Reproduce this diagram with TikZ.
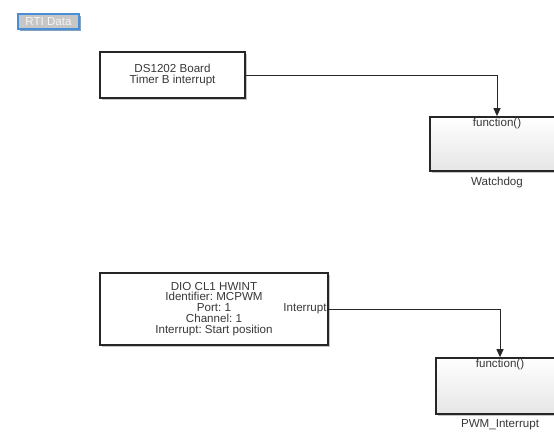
\documentclass[tikz,border=0pt]{standalone}
\usepackage{fontspec}
\setmainfont{Liberation Sans}
\usepackage{xcolor}
\usepackage{tikz}
\usetikzlibrary{arrows.meta,shadows,positioning}

\definecolor{rtiblue}{HTML}{4A8FD6}
\frenchspacing

\tikzset{
	blk/.style={draw=black!85, line width=0.8pt, fill=white, align=center, inner sep=0pt,
		drop shadow={shadow xshift=0.9pt, shadow yshift=-0.9pt, opacity=0.45}},
	fcn/.style={blk, line width=1pt, top color=white, bottom color=gray!20},
	rti/.style={draw=rtiblue, line width=1.6pt, fill=gray!45, text=white!92!gray,
		minimum width=1.22cm, minimum height=0.30cm, inner sep=0pt,
		drop shadow={shadow xshift=1pt, shadow yshift=-1pt, opacity=0.6, fill=rtiblue!70!black}},
	lbl/.style={inner sep=1pt},
	sig/.style={line width=0.5pt, draw=black!85, -{Triangle[width=4pt,length=4.5pt]}},
}

\begin{document}
\begin{tikzpicture}[x=0.02cm, y=-0.02cm, font=\fontsize{6.6}{6.2}\selectfont, text=black!78]
		\useasboundingbox (0,0) rectangle (554,432);
		\clip (0,0) rectangle (554,432);
		% RTI 数据块
		\node[rti] (rti) at (48.5,21.5) {RTI Data};
		% 定时器中断
		\node[blk, minimum width=2.9cm, minimum height=0.92cm] (ds) at (172.5,75) {DS1202 Board\\Timer B interrupt};
		\node[fcn, minimum width=2.68cm, minimum height=1.08cm] (wd) at (497,144) {};
		\node[lbl, below=0pt of wd.north] (wdfcn) {function()};
		\node[lbl, below=1.5pt of wd] (wdname) {Watchdog};
		\draw[sig] (ds.east) -| (wd.north);
		% 硬件中断
		\node[blk, minimum width=4.56cm, minimum height=1.44cm] (dio) at (214,309) {DIO CL1 HWINT\\Identifier: MCPWM\\Port: 1\\Channel: 1\\Interrupt: Start position};
		\node[lbl, anchor=east] (dioport) at (dio.east) {Interrupt};
		\node[fcn, minimum width=2.56cm, minimum height=1.12cm] (pwm) at (500,386) {};
		\node[lbl, below=0pt of pwm.north] (pwmfcn) {function()};
		\node[lbl, below=1.5pt of pwm] (pwmname) {PWM\_Interrupt};
		\draw[sig] (dio.east) -| (pwm.north);
	\end{tikzpicture}
\end{document}
